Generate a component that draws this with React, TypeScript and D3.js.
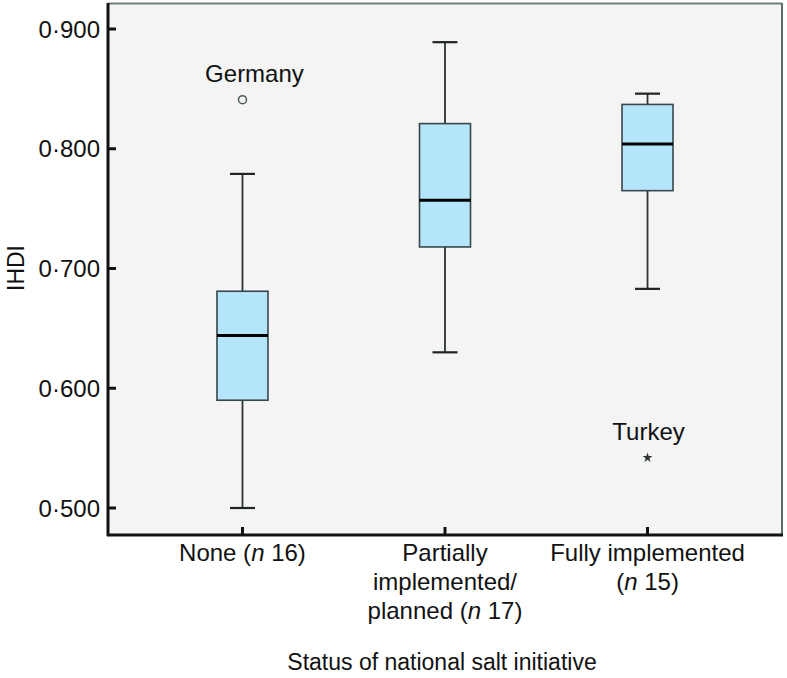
import React from "react";
import * as d3 from "d3";

const categories = ["None", "Partial", "Fully"];
const categoryLines = [
  [["None (", false], ["n", true], [" 16)", false]],
  [["Partially", false]],
  [["Fully implemented", false]],
];
const categoryLines2 = [
  [],
  [[["implemented/", false]], [["planned (", false], ["n", true], [" 17)", false]]],
  [[["(", false], ["n", true], [" 15)", false]]],
];
const q1 = [0.590, 0.718, 0.765];
const medians = [0.644, 0.757, 0.804];
const q3 = [0.681, 0.821, 0.837];
const whiskerLow = [0.500, 0.630, 0.683];
const whiskerHigh = [0.779, 0.889, 0.846];
const outlierCat = ["None", "Fully"];
const outlierValues = [0.841, 0.542];
const outlierNames = ["Germany", "Turkey"];
const outlierShapes = ["circle", "star"];
const yTicks = [0.5, 0.6, 0.7, 0.8, 0.9];

const W = 787, H = 678;
const left = 108, right = 782, top = 3, bottom = 535;
const FONT = "'Liberation Sans', Arial, sans-serif";

export default function App() {
  const x = d3.scalePoint<string>().domain(categories).range([left, right]).padding(0.664);
  const y = d3.scaleLinear().domain([0.5, 0.9]).range([508, 29]);
  const fmt = (v: number) => d3.format(".3f")(v).replace(".", "·");
  const bw = 51, cap = 25;
  const star = d3.symbol().type(d3.symbolStar).size(30)();
  const labelDx = [12, 1];

  return (
    <svg width={W} height={H} style={{ position: "absolute", left: 0, top: 0, fontFamily: FONT }}>
      <rect x={0} y={0} width={W} height={H} fill="#fff" />
      <rect x={left} y={top} width={right - left} height={bottom - top} fill="#f4f4f4" />
      <line x1={left} x2={right} y1={top + 0.5} y2={top + 0.5} stroke="#6c8080" strokeWidth={2} />
      <line x1={right} x2={right} y1={top} y2={bottom} stroke="#5d6a6a" strokeWidth={2} />

      {categories.map((c, i) => {
        const cx = x(c)!;
        return (
          <g key={c}>
            <line x1={cx} x2={cx} y1={y(whiskerLow[i])} y2={y(q1[i])} stroke="#2b3333" strokeWidth={1.8} />
            <line x1={cx} x2={cx} y1={y(q3[i])} y2={y(whiskerHigh[i])} stroke="#2b3333" strokeWidth={1.8} />
            <line x1={cx - cap / 2} x2={cx + cap / 2} y1={y(whiskerLow[i])} y2={y(whiskerLow[i])} stroke="#1e2424" strokeWidth={2.2} />
            <line x1={cx - cap / 2} x2={cx + cap / 2} y1={y(whiskerHigh[i])} y2={y(whiskerHigh[i])} stroke="#1e2424" strokeWidth={2.2} />
            <rect x={cx - bw / 2} y={y(q3[i])} width={bw} height={y(q1[i]) - y(q3[i])} fill="#b5e5fb" stroke="#37474a" strokeWidth={1.6} />
            <line x1={cx - bw / 2} x2={cx + bw / 2} y1={y(medians[i])} y2={y(medians[i])} stroke="#000" strokeWidth={3} />
          </g>
        );
      })}

      {outlierValues.map((v, i) => {
        const cx = x(outlierCat[i])!;
        const cy = y(v);
        return (
          <g key={outlierNames[i]}>
            {outlierShapes[i] === "circle" ? (
              <circle cx={cx} cy={cy} r={4} fill="none" stroke="#4d5a5a" strokeWidth={1.5} />
            ) : (
              <path d={star!} transform={`translate(${cx},${cy})`} fill="#2a3434" />
            )}
            <text x={cx + labelDx[i]} y={cy - 18} textAnchor="middle" fontSize={24} fill="#111">{outlierNames[i]}</text>
          </g>
        );
      })}

      {/* axes */}
      <line x1={left} x2={left} y1={top} y2={bottom + 1} stroke="#111" strokeWidth={3} />
      <line x1={left - 1} x2={right + 1} y1={bottom} y2={bottom} stroke="#111" strokeWidth={3} />
      {yTicks.map((t) => (
        <g key={t}>
          <line x1={left} x2={left + 8} y1={y(t)} y2={y(t)} stroke="#111" strokeWidth={3} />
          <text x={100} y={y(t)} dy="0.36em" textAnchor="end" fontSize={24} fill="#111">{fmt(t)}</text>
        </g>
      ))}
      {categories.map((c, i) => {
        const cx = x(c)!;
        const lines = [categoryLines[i], ...(categoryLines2[i] as any[])];
        return (
          <g key={c}>
            <line x1={cx} x2={cx} y1={bottom} y2={bottom - 8} stroke="#111" strokeWidth={3} />
            {lines.map((ln: any, j: number) => (
              <text key={j} x={cx} y={561 + j * 29} textAnchor="middle" fontSize={24} fill="#111">
                {ln.map((seg: any, k: number) => (
                  <tspan key={k} fontStyle={seg[1] ? "italic" : "normal"}>{seg[0]}</tspan>
                ))}
              </text>
            ))}
          </g>
        );
      })}
      <text transform={`translate(24,268) rotate(-90)`} textAnchor="middle" fontSize={23} fill="#111">IHDI</text>
      <text x={442} y={670} textAnchor="middle" fontSize={23} fill="#111">Status of national salt initiative</text>
    </svg>
  );
}
